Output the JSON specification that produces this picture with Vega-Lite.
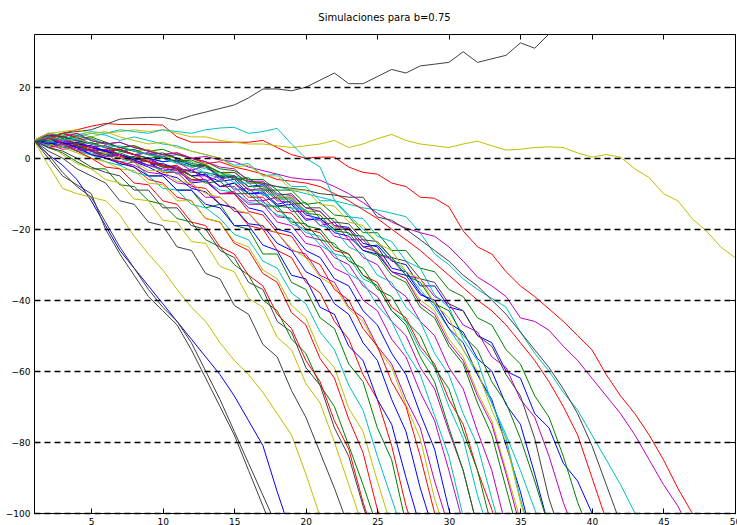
{
  "$schema": "https://vega.github.io/schema/vega-lite/v6.json",
  "autosize": "none",
  "width": 701,
  "height": 479,
  "padding": {"left": 34, "top": 34, "right": 2, "bottom": 12},
  "background": "white",
  "title": {"text": "Simulaciones para b=0.75", "font": "DejaVu Sans", "fontSize": 10, "fontWeight": "normal", "color": "black", "offset": 11, "anchor": "middle"},
  "config": {
    "view": {"stroke": "black", "strokeWidth": 1},
    "axis": {"labelFont": "DejaVu Sans", "labelFontSize": 9, "labelColor": "black", "domain": false, "tickColor": "black", "tickWidth": 1, "labelFlush": false, "labelOverlap": false}
  },
  "datasets": {
    "sim": [
{"s":1,"x":1,"y":5},{"s":1,"x":2,"y":1},{"s":1,"x":3,"y":-2},{"s":1,"x":4,"y":-6},{"s":1,"x":5,"y":-12},{"s":1,"x":6,"y":-19},{"s":1,"x":7,"y":-26},{"s":1,"x":8,"y":-31},{"s":1,"x":9,"y":-36},{"s":1,"x":10,"y":-41},{"s":1,"x":11,"y":-46},{"s":1,"x":12,"y":-51},{"s":1,"x":13,"y":-56},{"s":1,"x":14,"y":-61},{"s":1,"x":15,"y":-67},{"s":1,"x":16,"y":-74},{"s":1,"x":17,"y":-81},{"s":1,"x":18,"y":-94},{"s":1,"x":19,"y":-106},
{"s":2,"x":1,"y":5},{"s":2,"x":2,"y":6},{"s":2,"x":3,"y":4},{"s":2,"x":4,"y":3.5},{"s":2,"x":5,"y":1},{"s":2,"x":6,"y":2},{"s":2,"x":7,"y":-2},{"s":2,"x":8,"y":-1},{"s":2,"x":9,"y":-5},{"s":2,"x":10,"y":-5},{"s":2,"x":11,"y":-9},{"s":2,"x":12,"y":-9},{"s":2,"x":13,"y":-14},{"s":2,"x":14,"y":-13},{"s":2,"x":15,"y":-19},{"s":2,"x":16,"y":-20},{"s":2,"x":17,"y":-27},{"s":2,"x":18,"y":-27},{"s":2,"x":19,"y":-35},{"s":2,"x":20,"y":-37},{"s":2,"x":21,"y":-45},{"s":2,"x":22,"y":-48},{"s":2,"x":23,"y":-58},{"s":2,"x":24,"y":-63},{"s":2,"x":25,"y":-76},{"s":2,"x":26,"y":-85},{"s":2,"x":27,"y":-103},
{"s":3,"x":1,"y":5},{"s":3,"x":2,"y":6},{"s":3,"x":3,"y":7},{"s":3,"x":4,"y":8},{"s":3,"x":5,"y":9},{"s":3,"x":6,"y":9.8},{"s":3,"x":7,"y":9.5},{"s":3,"x":8,"y":9.5},{"s":3,"x":9,"y":9.5},{"s":3,"x":10,"y":9.3},{"s":3,"x":11,"y":6},{"s":3,"x":12,"y":4.5},{"s":3,"x":13,"y":4.5},{"s":3,"x":14,"y":4.5},{"s":3,"x":15,"y":4.5},{"s":3,"x":16,"y":4.5},{"s":3,"x":17,"y":5},{"s":3,"x":18,"y":3},{"s":3,"x":19,"y":1},{"s":3,"x":20,"y":0},{"s":3,"x":21,"y":0.3},{"s":3,"x":22,"y":0.3},{"s":3,"x":23,"y":-2.5},{"s":3,"x":24,"y":-4},{"s":3,"x":25,"y":-4.5},{"s":3,"x":26,"y":-7},{"s":3,"x":27,"y":-8},{"s":3,"x":28,"y":-11},{"s":3,"x":29,"y":-11.3},{"s":3,"x":30,"y":-13.7},{"s":3,"x":31,"y":-20.5},{"s":3,"x":32,"y":-25},{"s":3,"x":33,"y":-27},{"s":3,"x":34,"y":-32},{"s":3,"x":35,"y":-36},{"s":3,"x":36,"y":-39},{"s":3,"x":37,"y":-42.5},{"s":3,"x":38,"y":-46},{"s":3,"x":39,"y":-50},{"s":3,"x":40,"y":-54},{"s":3,"x":41,"y":-61},{"s":3,"x":42,"y":-67},{"s":3,"x":43,"y":-72},{"s":3,"x":44,"y":-78},{"s":3,"x":45,"y":-85},{"s":3,"x":46,"y":-93},{"s":3,"x":47,"y":-100},{"s":3,"x":48,"y":-108},
{"s":4,"x":1,"y":5},{"s":4,"x":2,"y":5.5},{"s":4,"x":3,"y":4},{"s":4,"x":4,"y":4.5},{"s":4,"x":5,"y":3},{"s":4,"x":6,"y":2},{"s":4,"x":7,"y":2.5},{"s":4,"x":8,"y":1},{"s":4,"x":9,"y":0},{"s":4,"x":10,"y":-1},{"s":4,"x":11,"y":-0.5},{"s":4,"x":12,"y":-2},{"s":4,"x":13,"y":-3},{"s":4,"x":14,"y":-4},{"s":4,"x":15,"y":-5},{"s":4,"x":16,"y":-6},{"s":4,"x":17,"y":-7.5},{"s":4,"x":18,"y":-8},{"s":4,"x":19,"y":-9},{"s":4,"x":20,"y":-10},{"s":4,"x":21,"y":-11},{"s":4,"x":22,"y":-12},{"s":4,"x":23,"y":-13},{"s":4,"x":24,"y":-14},{"s":4,"x":25,"y":-14.6},{"s":4,"x":26,"y":-15.5},{"s":4,"x":27,"y":-16.5},{"s":4,"x":28,"y":-21},{"s":4,"x":29,"y":-27},{"s":4,"x":30,"y":-30},{"s":4,"x":31,"y":-34},{"s":4,"x":32,"y":-37},{"s":4,"x":33,"y":-39.5},{"s":4,"x":34,"y":-42},{"s":4,"x":35,"y":-49},{"s":4,"x":36,"y":-55},{"s":4,"x":37,"y":-60},{"s":4,"x":38,"y":-66},{"s":4,"x":39,"y":-71},{"s":4,"x":40,"y":-78},{"s":4,"x":41,"y":-85},{"s":4,"x":42,"y":-92},{"s":4,"x":43,"y":-100},{"s":4,"x":44,"y":-108},
{"s":5,"x":1,"y":5},{"s":5,"x":2,"y":4},{"s":5,"x":3,"y":4.5},{"s":5,"x":4,"y":3},{"s":5,"x":5,"y":3.5},{"s":5,"x":6,"y":2},{"s":5,"x":7,"y":2.5},{"s":5,"x":8,"y":1},{"s":5,"x":9,"y":1.5},{"s":5,"x":10,"y":0.5},{"s":5,"x":11,"y":1},{"s":5,"x":12,"y":0},{"s":5,"x":13,"y":0.5},{"s":5,"x":14,"y":-0.5},{"s":5,"x":15,"y":-1},{"s":5,"x":16,"y":-2.5},{"s":5,"x":17,"y":-3.5},{"s":5,"x":18,"y":-4.5},{"s":5,"x":19,"y":-5.5},{"s":5,"x":20,"y":-6},{"s":5,"x":21,"y":-6.2},{"s":5,"x":22,"y":-8},{"s":5,"x":23,"y":-10},{"s":5,"x":24,"y":-12.5},{"s":5,"x":25,"y":-15.5},{"s":5,"x":26,"y":-18},{"s":5,"x":27,"y":-19.7},{"s":5,"x":28,"y":-21},{"s":5,"x":29,"y":-22},{"s":5,"x":30,"y":-25},{"s":5,"x":31,"y":-29},{"s":5,"x":32,"y":-33.5},{"s":5,"x":33,"y":-36},{"s":5,"x":34,"y":-39},{"s":5,"x":35,"y":-45},{"s":5,"x":36,"y":-46},{"s":5,"x":37,"y":-48.5},{"s":5,"x":38,"y":-53},{"s":5,"x":39,"y":-57},{"s":5,"x":40,"y":-62},{"s":5,"x":41,"y":-67},{"s":5,"x":42,"y":-72},{"s":5,"x":43,"y":-78},{"s":5,"x":44,"y":-85},{"s":5,"x":45,"y":-92},{"s":5,"x":46,"y":-98},{"s":5,"x":47,"y":-106},
{"s":6,"x":1,"y":5},{"s":6,"x":2,"y":6},{"s":6,"x":3,"y":6.5},{"s":6,"x":4,"y":7},{"s":6,"x":5,"y":6},{"s":6,"x":6,"y":7},{"s":6,"x":7,"y":7.5},{"s":6,"x":8,"y":8},{"s":6,"x":9,"y":7.5},{"s":6,"x":10,"y":8},{"s":6,"x":11,"y":7},{"s":6,"x":12,"y":6},{"s":6,"x":13,"y":6},{"s":6,"x":14,"y":5},{"s":6,"x":15,"y":4.5},{"s":6,"x":16,"y":4},{"s":6,"x":17,"y":4},{"s":6,"x":18,"y":3.5},{"s":6,"x":19,"y":3},{"s":6,"x":20,"y":3.5},{"s":6,"x":21,"y":4},{"s":6,"x":22,"y":5},{"s":6,"x":23,"y":3},{"s":6,"x":24,"y":4},{"s":6,"x":25,"y":5.5},{"s":6,"x":26,"y":6.7},{"s":6,"x":27,"y":5},{"s":6,"x":28,"y":4},{"s":6,"x":29,"y":3.5},{"s":6,"x":30,"y":3},{"s":6,"x":31,"y":4},{"s":6,"x":32,"y":4.8},{"s":6,"x":33,"y":3.5},{"s":6,"x":34,"y":2.3},{"s":6,"x":35,"y":2.5},{"s":6,"x":36,"y":3},{"s":6,"x":37,"y":3.2},{"s":6,"x":38,"y":3},{"s":6,"x":39,"y":1.5},{"s":6,"x":40,"y":0.3},{"s":6,"x":41,"y":1},{"s":6,"x":42,"y":0.3},{"s":6,"x":43,"y":-3},{"s":6,"x":44,"y":-5.5},{"s":6,"x":45,"y":-10},{"s":6,"x":46,"y":-12},{"s":6,"x":47,"y":-17},{"s":6,"x":48,"y":-20.5},{"s":6,"x":49,"y":-25},{"s":6,"x":50,"y":-28},
{"s":7,"x":1,"y":5},{"s":7,"x":2,"y":6},{"s":7,"x":3,"y":7},{"s":7,"x":4,"y":7.5},{"s":7,"x":5,"y":8},{"s":7,"x":6,"y":9.5},{"s":7,"x":7,"y":11},{"s":7,"x":8,"y":11.3},{"s":7,"x":9,"y":11.5},{"s":7,"x":10,"y":11.5},{"s":7,"x":11,"y":10.7},{"s":7,"x":12,"y":12},{"s":7,"x":13,"y":13},{"s":7,"x":14,"y":14},{"s":7,"x":15,"y":15},{"s":7,"x":16,"y":17},{"s":7,"x":17,"y":19.5},{"s":7,"x":18,"y":19.5},{"s":7,"x":19,"y":19},{"s":7,"x":20,"y":20},{"s":7,"x":21,"y":22},{"s":7,"x":22,"y":24},{"s":7,"x":23,"y":21},{"s":7,"x":24,"y":21},{"s":7,"x":25,"y":23},{"s":7,"x":26,"y":25},{"s":7,"x":27,"y":24},{"s":7,"x":28,"y":26},{"s":7,"x":29,"y":26.5},{"s":7,"x":30,"y":27},{"s":7,"x":31,"y":30},{"s":7,"x":32,"y":27},{"s":7,"x":33,"y":28},{"s":7,"x":34,"y":29},{"s":7,"x":35,"y":32.5},{"s":7,"x":36,"y":31},{"s":7,"x":37,"y":35},{"s":7,"x":38,"y":38},
{"s":8,"x":1,"y":5},{"s":8,"x":2,"y":4},{"s":8,"x":3,"y":5.5},{"s":8,"x":4,"y":3.5},{"s":8,"x":5,"y":2},{"s":8,"x":6,"y":2.5},{"s":8,"x":7,"y":1},{"s":8,"x":8,"y":-0.5},{"s":8,"x":9,"y":0},{"s":8,"x":10,"y":-2},{"s":8,"x":11,"y":-3},{"s":8,"x":12,"y":-3.5},{"s":8,"x":13,"y":-5},{"s":8,"x":14,"y":-6.5},{"s":8,"x":15,"y":-6},{"s":8,"x":16,"y":-10},{"s":8,"x":17,"y":-9.5},{"s":8,"x":18,"y":-13},{"s":8,"x":19,"y":-12},{"s":8,"x":20,"y":-16},{"s":8,"x":21,"y":-17},{"s":8,"x":22,"y":-20},{"s":8,"x":23,"y":-20},{"s":8,"x":24,"y":-25},{"s":8,"x":25,"y":-24.5},{"s":8,"x":26,"y":-29},{"s":8,"x":27,"y":-30},{"s":8,"x":28,"y":-36},{"s":8,"x":29,"y":-36},{"s":8,"x":30,"y":-42},{"s":8,"x":31,"y":-43},{"s":8,"x":32,"y":-50},{"s":8,"x":33,"y":-52},{"s":8,"x":34,"y":-60},{"s":8,"x":35,"y":-62},{"s":8,"x":36,"y":-72},{"s":8,"x":37,"y":-76},{"s":8,"x":38,"y":-86},{"s":8,"x":39,"y":-91},{"s":8,"x":40,"y":-100},{"s":8,"x":41,"y":-108},
{"s":9,"x":1,"y":5},{"s":9,"x":2,"y":6},{"s":9,"x":3,"y":5},{"s":9,"x":4,"y":6.5},{"s":9,"x":5,"y":5},{"s":9,"x":6,"y":4},{"s":9,"x":7,"y":4.5},{"s":9,"x":8,"y":3},{"s":9,"x":9,"y":2},{"s":9,"x":10,"y":2.5},{"s":9,"x":11,"y":1},{"s":9,"x":12,"y":0},{"s":9,"x":13,"y":-1},{"s":9,"x":14,"y":-3},{"s":9,"x":15,"y":-3.5},{"s":9,"x":16,"y":-6},{"s":9,"x":17,"y":-6},{"s":9,"x":18,"y":-9},{"s":9,"x":19,"y":-9},{"s":9,"x":20,"y":-13},{"s":9,"x":21,"y":-12.5},{"s":9,"x":22,"y":-16},{"s":9,"x":23,"y":-16.5},{"s":9,"x":24,"y":-21},{"s":9,"x":25,"y":-21},{"s":9,"x":26,"y":-26},{"s":9,"x":27,"y":-26},{"s":9,"x":28,"y":-31},{"s":9,"x":29,"y":-32},{"s":9,"x":30,"y":-37},{"s":9,"x":31,"y":-39},{"s":9,"x":32,"y":-45},{"s":9,"x":33,"y":-47},{"s":9,"x":34,"y":-54},{"s":9,"x":35,"y":-58},{"s":9,"x":36,"y":-67},{"s":9,"x":37,"y":-73},{"s":9,"x":38,"y":-84},{"s":9,"x":39,"y":-97},{"s":9,"x":40,"y":-107},
{"s":10,"x":1,"y":5},{"s":10,"x":2,"y":7},{"s":10,"x":3,"y":6},{"s":10,"x":4,"y":5},{"s":10,"x":5,"y":5.5},{"s":10,"x":6,"y":4},{"s":10,"x":7,"y":3},{"s":10,"x":8,"y":3.5},{"s":10,"x":9,"y":2},{"s":10,"x":10,"y":1},{"s":10,"x":11,"y":1.5},{"s":10,"x":12,"y":0},{"s":10,"x":13,"y":-1.5},{"s":10,"x":14,"y":-1},{"s":10,"x":15,"y":-2.5},{"s":10,"x":16,"y":-3.4},{"s":10,"x":17,"y":-4.5},{"s":10,"x":18,"y":-6},{"s":10,"x":19,"y":-6.5},{"s":10,"x":20,"y":-7},{"s":10,"x":21,"y":-8},{"s":10,"x":22,"y":-10},{"s":10,"x":23,"y":-12},{"s":10,"x":24,"y":-14.5},{"s":10,"x":25,"y":-17},{"s":10,"x":26,"y":-20},{"s":10,"x":27,"y":-23},{"s":10,"x":28,"y":-26},{"s":10,"x":29,"y":-29.5},{"s":10,"x":30,"y":-33},{"s":10,"x":31,"y":-36.5},{"s":10,"x":32,"y":-40},{"s":10,"x":33,"y":-43},{"s":10,"x":34,"y":-47},{"s":10,"x":35,"y":-52},{"s":10,"x":36,"y":-57},{"s":10,"x":37,"y":-63},{"s":10,"x":38,"y":-70},{"s":10,"x":39,"y":-78},{"s":10,"x":40,"y":-90},{"s":10,"x":41,"y":-102},
{"s":11,"x":1,"y":5},{"s":11,"x":2,"y":6},{"s":11,"x":3,"y":7},{"s":11,"x":4,"y":6.5},{"s":11,"x":5,"y":7.5},{"s":11,"x":6,"y":7},{"s":11,"x":7,"y":8},{"s":11,"x":8,"y":7.5},{"s":11,"x":9,"y":7},{"s":11,"x":10,"y":8},{"s":11,"x":11,"y":7.5},{"s":11,"x":12,"y":7},{"s":11,"x":13,"y":8},{"s":11,"x":14,"y":8.5},{"s":11,"x":15,"y":8.7},{"s":11,"x":16,"y":7},{"s":11,"x":17,"y":7.5},{"s":11,"x":18,"y":8.4},{"s":11,"x":19,"y":4},{"s":11,"x":20,"y":0},{"s":11,"x":21,"y":-2.5},{"s":11,"x":22,"y":-11.8},{"s":11,"x":23,"y":-16},{"s":11,"x":24,"y":-20},{"s":11,"x":25,"y":-24},{"s":11,"x":26,"y":-28},{"s":11,"x":27,"y":-32},{"s":11,"x":28,"y":-37},{"s":11,"x":29,"y":-42},{"s":11,"x":30,"y":-48},{"s":11,"x":31,"y":-54},{"s":11,"x":32,"y":-61},{"s":11,"x":33,"y":-69},{"s":11,"x":34,"y":-78},{"s":11,"x":35,"y":-88},{"s":11,"x":36,"y":-99},{"s":11,"x":37,"y":-110},
{"s":12,"x":1,"y":5},{"s":12,"x":2,"y":3},{"s":12,"x":3,"y":3.5},{"s":12,"x":4,"y":2},{"s":12,"x":5,"y":1},{"s":12,"x":6,"y":1.5},{"s":12,"x":7,"y":0},{"s":12,"x":8,"y":-1},{"s":12,"x":9,"y":-0.5},{"s":12,"x":10,"y":-2},{"s":12,"x":11,"y":-4.5},{"s":12,"x":12,"y":-3},{"s":12,"x":13,"y":-6.5},{"s":12,"x":14,"y":-5},{"s":12,"x":15,"y":-9},{"s":12,"x":16,"y":-8.5},{"s":12,"x":17,"y":-12},{"s":12,"x":18,"y":-11},{"s":12,"x":19,"y":-15},{"s":12,"x":20,"y":-15},{"s":12,"x":21,"y":-19},{"s":12,"x":22,"y":-18},{"s":12,"x":23,"y":-23},{"s":12,"x":24,"y":-23},{"s":12,"x":25,"y":-27},{"s":12,"x":26,"y":-28.5},{"s":12,"x":27,"y":-33},{"s":12,"x":28,"y":-34},{"s":12,"x":29,"y":-39},{"s":12,"x":30,"y":-41},{"s":12,"x":31,"y":-47},{"s":12,"x":32,"y":-49},{"s":12,"x":33,"y":-56},{"s":12,"x":34,"y":-59},{"s":12,"x":35,"y":-68},{"s":12,"x":36,"y":-73},{"s":12,"x":37,"y":-84},{"s":12,"x":38,"y":-97},{"s":12,"x":39,"y":-108},
{"s":13,"x":1,"y":5},{"s":13,"x":2,"y":-2},{"s":13,"x":3,"y":-8.5},{"s":13,"x":4,"y":-10},{"s":13,"x":5,"y":-11},{"s":13,"x":6,"y":-12},{"s":13,"x":7,"y":-16},{"s":13,"x":8,"y":-22},{"s":13,"x":9,"y":-27},{"s":13,"x":10,"y":-31.5},{"s":13,"x":11,"y":-37},{"s":13,"x":12,"y":-42},{"s":13,"x":13,"y":-46},{"s":13,"x":14,"y":-52},{"s":13,"x":15,"y":-57},{"s":13,"x":16,"y":-61},{"s":13,"x":17,"y":-66},{"s":13,"x":18,"y":-72},{"s":13,"x":19,"y":-78},{"s":13,"x":20,"y":-89},{"s":13,"x":21,"y":-101},
{"s":14,"x":1,"y":5},{"s":14,"x":2,"y":3.5},{"s":14,"x":3,"y":4},{"s":14,"x":4,"y":2},{"s":14,"x":5,"y":2.5},{"s":14,"x":6,"y":1},{"s":14,"x":7,"y":0},{"s":14,"x":8,"y":0.5},{"s":14,"x":9,"y":-1},{"s":14,"x":10,"y":-2},{"s":14,"x":11,"y":-2.5},{"s":14,"x":12,"y":-4},{"s":14,"x":13,"y":-4},{"s":14,"x":14,"y":-5},{"s":14,"x":15,"y":-5.5},{"s":14,"x":16,"y":-6.5},{"s":14,"x":17,"y":-7},{"s":14,"x":18,"y":-8},{"s":14,"x":19,"y":-8.5},{"s":14,"x":20,"y":-9},{"s":14,"x":21,"y":-10},{"s":14,"x":22,"y":-10.4},{"s":14,"x":23,"y":-11},{"s":14,"x":24,"y":-11},{"s":14,"x":25,"y":-16.6},{"s":14,"x":26,"y":-17.5},{"s":14,"x":27,"y":-20},{"s":14,"x":28,"y":-23},{"s":14,"x":29,"y":-26},{"s":14,"x":30,"y":-29},{"s":14,"x":31,"y":-33},{"s":14,"x":32,"y":-36},{"s":14,"x":33,"y":-40},{"s":14,"x":34,"y":-44},{"s":14,"x":35,"y":-49},{"s":14,"x":36,"y":-54},{"s":14,"x":37,"y":-59},{"s":14,"x":38,"y":-65},{"s":14,"x":39,"y":-72},{"s":14,"x":40,"y":-81},{"s":14,"x":41,"y":-92},{"s":14,"x":42,"y":-103},
{"s":15,"x":1,"y":5},{"s":15,"x":2,"y":5.5},{"s":15,"x":3,"y":4},{"s":15,"x":4,"y":4.5},{"s":15,"x":5,"y":3},{"s":15,"x":6,"y":2},{"s":15,"x":7,"y":2.5},{"s":15,"x":8,"y":1},{"s":15,"x":9,"y":0},{"s":15,"x":10,"y":-1},{"s":15,"x":11,"y":-0.5},{"s":15,"x":12,"y":-2},{"s":15,"x":13,"y":-2},{"s":15,"x":14,"y":-5.5},{"s":15,"x":15,"y":-5},{"s":15,"x":16,"y":-8},{"s":15,"x":17,"y":-7.5},{"s":15,"x":18,"y":-11},{"s":15,"x":19,"y":-11},{"s":15,"x":20,"y":-15},{"s":15,"x":21,"y":-15},{"s":15,"x":22,"y":-19},{"s":15,"x":23,"y":-19.5},{"s":15,"x":24,"y":-24},{"s":15,"x":25,"y":-25},{"s":15,"x":26,"y":-31},{"s":15,"x":27,"y":-32},{"s":15,"x":28,"y":-38},{"s":15,"x":29,"y":-41},{"s":15,"x":30,"y":-48},{"s":15,"x":31,"y":-52},{"s":15,"x":32,"y":-61},{"s":15,"x":33,"y":-68},{"s":15,"x":34,"y":-81},{"s":15,"x":35,"y":-94},{"s":15,"x":36,"y":-110},
{"s":16,"x":1,"y":5},{"s":16,"x":2,"y":4.5},{"s":16,"x":3,"y":5.5},{"s":16,"x":4,"y":4},{"s":16,"x":5,"y":3},{"s":16,"x":6,"y":3.5},{"s":16,"x":7,"y":2},{"s":16,"x":8,"y":1},{"s":16,"x":9,"y":0},{"s":16,"x":10,"y":0.5},{"s":16,"x":11,"y":-1},{"s":16,"x":12,"y":-2.5},{"s":16,"x":13,"y":-2},{"s":16,"x":14,"y":-5},{"s":16,"x":15,"y":-5},{"s":16,"x":16,"y":-8},{"s":16,"x":17,"y":-8},{"s":16,"x":18,"y":-11.5},{"s":16,"x":19,"y":-11.5},{"s":16,"x":20,"y":-15.5},{"s":16,"x":21,"y":-16},{"s":16,"x":22,"y":-20.5},{"s":16,"x":23,"y":-21},{"s":16,"x":24,"y":-26},{"s":16,"x":25,"y":-27.5},{"s":16,"x":26,"y":-33},{"s":16,"x":27,"y":-35},{"s":16,"x":28,"y":-42},{"s":16,"x":29,"y":-45},{"s":16,"x":30,"y":-53},{"s":16,"x":31,"y":-58},{"s":16,"x":32,"y":-69},{"s":16,"x":33,"y":-78},{"s":16,"x":34,"y":-93},{"s":16,"x":35,"y":-108},
{"s":17,"x":1,"y":5},{"s":17,"x":2,"y":4},{"s":17,"x":3,"y":3},{"s":17,"x":4,"y":4},{"s":17,"x":5,"y":2.5},{"s":17,"x":6,"y":2},{"s":17,"x":7,"y":0.5},{"s":17,"x":8,"y":0},{"s":17,"x":9,"y":-1},{"s":17,"x":10,"y":-2.5},{"s":17,"x":11,"y":-2},{"s":17,"x":12,"y":-5},{"s":17,"x":13,"y":-4.5},{"s":17,"x":14,"y":-8},{"s":17,"x":15,"y":-7},{"s":17,"x":16,"y":-11},{"s":17,"x":17,"y":-11},{"s":17,"x":18,"y":-15},{"s":17,"x":19,"y":-15.5},{"s":17,"x":20,"y":-20},{"s":17,"x":21,"y":-21},{"s":17,"x":22,"y":-26},{"s":17,"x":23,"y":-27},{"s":17,"x":24,"y":-33},{"s":17,"x":25,"y":-35},{"s":17,"x":26,"y":-42},{"s":17,"x":27,"y":-45},{"s":17,"x":28,"y":-53},{"s":17,"x":29,"y":-58},{"s":17,"x":30,"y":-68},{"s":17,"x":31,"y":-75},{"s":17,"x":32,"y":-88},{"s":17,"x":33,"y":-99},{"s":17,"x":34,"y":-113},
{"s":18,"x":1,"y":5},{"s":18,"x":2,"y":6},{"s":18,"x":3,"y":5},{"s":18,"x":4,"y":6},{"s":18,"x":5,"y":7},{"s":18,"x":6,"y":6.5},{"s":18,"x":7,"y":5},{"s":18,"x":8,"y":6},{"s":18,"x":9,"y":5},{"s":18,"x":10,"y":4},{"s":18,"x":11,"y":3.5},{"s":18,"x":12,"y":2},{"s":18,"x":13,"y":1},{"s":18,"x":14,"y":0},{"s":18,"x":15,"y":-2},{"s":18,"x":16,"y":-1.5},{"s":18,"x":17,"y":-5},{"s":18,"x":18,"y":-4.5},{"s":18,"x":19,"y":-8},{"s":18,"x":20,"y":-8},{"s":18,"x":21,"y":-12},{"s":18,"x":22,"y":-12},{"s":18,"x":23,"y":-16.5},{"s":18,"x":24,"y":-17},{"s":18,"x":25,"y":-22},{"s":18,"x":26,"y":-23.5},{"s":18,"x":27,"y":-29},{"s":18,"x":28,"y":-31},{"s":18,"x":29,"y":-38.5},{"s":18,"x":30,"y":-42},{"s":18,"x":31,"y":-51},{"s":18,"x":32,"y":-57},{"s":18,"x":33,"y":-69},{"s":18,"x":34,"y":-79},{"s":18,"x":35,"y":-96},{"s":18,"x":36,"y":-110},
{"s":19,"x":1,"y":5},{"s":19,"x":2,"y":4},{"s":19,"x":3,"y":5},{"s":19,"x":4,"y":3},{"s":19,"x":5,"y":2},{"s":19,"x":6,"y":2.5},{"s":19,"x":7,"y":1},{"s":19,"x":8,"y":-0.5},{"s":19,"x":9,"y":0},{"s":19,"x":10,"y":-2.5},{"s":19,"x":11,"y":-2.5},{"s":19,"x":12,"y":-5},{"s":19,"x":13,"y":-5},{"s":19,"x":14,"y":-8},{"s":19,"x":15,"y":-8},{"s":19,"x":16,"y":-12},{"s":19,"x":17,"y":-12},{"s":19,"x":18,"y":-16.5},{"s":19,"x":19,"y":-17},{"s":19,"x":20,"y":-22},{"s":19,"x":21,"y":-23},{"s":19,"x":22,"y":-28},{"s":19,"x":23,"y":-30},{"s":19,"x":24,"y":-36},{"s":19,"x":25,"y":-39},{"s":19,"x":26,"y":-46},{"s":19,"x":27,"y":-50},{"s":19,"x":28,"y":-59},{"s":19,"x":29,"y":-65},{"s":19,"x":30,"y":-77},{"s":19,"x":31,"y":-88},{"s":19,"x":32,"y":-104},
{"s":20,"x":1,"y":5},{"s":20,"x":2,"y":5},{"s":20,"x":3,"y":6},{"s":20,"x":4,"y":5},{"s":20,"x":5,"y":5.5},{"s":20,"x":6,"y":4},{"s":20,"x":7,"y":3},{"s":20,"x":8,"y":2},{"s":20,"x":9,"y":2.5},{"s":20,"x":10,"y":1},{"s":20,"x":11,"y":0},{"s":20,"x":12,"y":-1},{"s":20,"x":13,"y":-1.5},{"s":20,"x":14,"y":-4.5},{"s":20,"x":15,"y":-4},{"s":20,"x":16,"y":-7},{"s":20,"x":17,"y":-7},{"s":20,"x":18,"y":-11},{"s":20,"x":19,"y":-11},{"s":20,"x":20,"y":-15},{"s":20,"x":21,"y":-15},{"s":20,"x":22,"y":-19.5},{"s":20,"x":23,"y":-20},{"s":20,"x":24,"y":-25},{"s":20,"x":25,"y":-26},{"s":20,"x":26,"y":-32},{"s":20,"x":27,"y":-34},{"s":20,"x":28,"y":-40},{"s":20,"x":29,"y":-43},{"s":20,"x":30,"y":-51},{"s":20,"x":31,"y":-56},{"s":20,"x":32,"y":-66},{"s":20,"x":33,"y":-74},{"s":20,"x":34,"y":-88},{"s":20,"x":35,"y":-102},
{"s":21,"x":1,"y":5},{"s":21,"x":2,"y":0},{"s":21,"x":3,"y":-5},{"s":21,"x":4,"y":-7.5},{"s":21,"x":5,"y":-10},{"s":21,"x":6,"y":-20},{"s":21,"x":7,"y":-27},{"s":21,"x":8,"y":-33},{"s":21,"x":9,"y":-39},{"s":21,"x":10,"y":-43},{"s":21,"x":11,"y":-47},{"s":21,"x":12,"y":-54},{"s":21,"x":13,"y":-62},{"s":21,"x":14,"y":-70},{"s":21,"x":15,"y":-78},{"s":21,"x":16,"y":-88},{"s":21,"x":17,"y":-98},{"s":21,"x":18,"y":-108},
{"s":22,"x":1,"y":5},{"s":22,"x":2,"y":6},{"s":22,"x":3,"y":5},{"s":22,"x":4,"y":4},{"s":22,"x":5,"y":3.5},{"s":22,"x":6,"y":2},{"s":22,"x":7,"y":1},{"s":22,"x":8,"y":0},{"s":22,"x":9,"y":-1},{"s":22,"x":10,"y":-3.5},{"s":22,"x":11,"y":-3},{"s":22,"x":12,"y":-7},{"s":22,"x":13,"y":-6.5},{"s":22,"x":14,"y":-10},{"s":22,"x":15,"y":-10},{"s":22,"x":16,"y":-14},{"s":22,"x":17,"y":-15},{"s":22,"x":18,"y":-20},{"s":22,"x":19,"y":-21},{"s":22,"x":20,"y":-26},{"s":22,"x":21,"y":-28},{"s":22,"x":22,"y":-34},{"s":22,"x":23,"y":-36},{"s":22,"x":24,"y":-43},{"s":22,"x":25,"y":-47},{"s":22,"x":26,"y":-55},{"s":22,"x":27,"y":-61},{"s":22,"x":28,"y":-72},{"s":22,"x":29,"y":-82},{"s":22,"x":30,"y":-99},{"s":22,"x":31,"y":-110},
{"s":23,"x":1,"y":5},{"s":23,"x":2,"y":3},{"s":23,"x":3,"y":1.5},{"s":23,"x":4,"y":-1},{"s":23,"x":5,"y":-3},{"s":23,"x":6,"y":-3},{"s":23,"x":7,"y":-7.5},{"s":23,"x":8,"y":-8},{"s":23,"x":9,"y":-12},{"s":23,"x":10,"y":-13},{"s":23,"x":11,"y":-17},{"s":23,"x":12,"y":-18},{"s":23,"x":13,"y":-23},{"s":23,"x":14,"y":-25},{"s":23,"x":15,"y":-30},{"s":23,"x":16,"y":-33},{"s":23,"x":17,"y":-40},{"s":23,"x":18,"y":-43},{"s":23,"x":19,"y":-51},{"s":23,"x":20,"y":-55},{"s":23,"x":21,"y":-64},{"s":23,"x":22,"y":-70},{"s":23,"x":23,"y":-81},{"s":23,"x":24,"y":-92},{"s":23,"x":25,"y":-104},
{"s":24,"x":1,"y":5},{"s":24,"x":2,"y":7},{"s":24,"x":3,"y":6},{"s":24,"x":4,"y":5},{"s":24,"x":5,"y":4},{"s":24,"x":6,"y":3},{"s":24,"x":7,"y":1},{"s":24,"x":8,"y":-1},{"s":24,"x":9,"y":-1},{"s":24,"x":10,"y":-4},{"s":24,"x":11,"y":-4},{"s":24,"x":12,"y":-8},{"s":24,"x":13,"y":-8.5},{"s":24,"x":14,"y":-13},{"s":24,"x":15,"y":-14},{"s":24,"x":16,"y":-19},{"s":24,"x":17,"y":-20},{"s":24,"x":18,"y":-26},{"s":24,"x":19,"y":-28},{"s":24,"x":20,"y":-35},{"s":24,"x":21,"y":-38},{"s":24,"x":22,"y":-46},{"s":24,"x":23,"y":-51},{"s":24,"x":24,"y":-61},{"s":24,"x":25,"y":-68},{"s":24,"x":26,"y":-81},{"s":24,"x":27,"y":-98},{"s":24,"x":28,"y":-110},
{"s":25,"x":1,"y":5},{"s":25,"x":2,"y":3.5},{"s":25,"x":3,"y":4},{"s":25,"x":4,"y":2},{"s":25,"x":5,"y":1.5},{"s":25,"x":6,"y":0},{"s":25,"x":7,"y":-1},{"s":25,"x":8,"y":-0.5},{"s":25,"x":9,"y":-2},{"s":25,"x":10,"y":-3.5},{"s":25,"x":11,"y":-4},{"s":25,"x":12,"y":-6},{"s":25,"x":13,"y":-6.5},{"s":25,"x":14,"y":-9},{"s":25,"x":15,"y":-9.5},{"s":25,"x":16,"y":-12.5},{"s":25,"x":17,"y":-13},{"s":25,"x":18,"y":-16},{"s":25,"x":19,"y":-17},{"s":25,"x":20,"y":-21},{"s":25,"x":21,"y":-22},{"s":25,"x":22,"y":-27},{"s":25,"x":23,"y":-28},{"s":25,"x":24,"y":-34},{"s":25,"x":25,"y":-36},{"s":25,"x":26,"y":-43},{"s":25,"x":27,"y":-46},{"s":25,"x":28,"y":-54},{"s":25,"x":29,"y":-59},{"s":25,"x":30,"y":-70},{"s":25,"x":31,"y":-79},{"s":25,"x":32,"y":-95},{"s":25,"x":33,"y":-108},
{"s":26,"x":1,"y":5},{"s":26,"x":2,"y":4},{"s":26,"x":3,"y":2.5},{"s":26,"x":4,"y":3},{"s":26,"x":5,"y":1},{"s":26,"x":6,"y":0},{"s":26,"x":7,"y":-1},{"s":26,"x":8,"y":-2},{"s":26,"x":9,"y":-4},{"s":26,"x":10,"y":-4.5},{"s":26,"x":11,"y":-7},{"s":26,"x":12,"y":-7.5},{"s":26,"x":13,"y":-11},{"s":26,"x":14,"y":-11},{"s":26,"x":15,"y":-15},{"s":26,"x":16,"y":-15.5},{"s":26,"x":17,"y":-20},{"s":26,"x":18,"y":-21},{"s":26,"x":19,"y":-26},{"s":26,"x":20,"y":-27},{"s":26,"x":21,"y":-33},{"s":26,"x":22,"y":-35},{"s":26,"x":23,"y":-42},{"s":26,"x":24,"y":-45},{"s":26,"x":25,"y":-53},{"s":26,"x":26,"y":-58},{"s":26,"x":27,"y":-68},{"s":26,"x":28,"y":-76},{"s":26,"x":29,"y":-91},{"s":26,"x":30,"y":-104},
{"s":27,"x":1,"y":5},{"s":27,"x":2,"y":4},{"s":27,"x":3,"y":1},{"s":27,"x":4,"y":-1.5},{"s":27,"x":5,"y":-3},{"s":27,"x":6,"y":-6},{"s":27,"x":7,"y":-7},{"s":27,"x":8,"y":-11.5},{"s":27,"x":9,"y":-12},{"s":27,"x":10,"y":-17.5},{"s":27,"x":11,"y":-18},{"s":27,"x":12,"y":-23.5},{"s":27,"x":13,"y":-24},{"s":27,"x":14,"y":-30.5},{"s":27,"x":15,"y":-32},{"s":27,"x":16,"y":-39.5},{"s":27,"x":17,"y":-42},{"s":27,"x":18,"y":-50.5},{"s":27,"x":19,"y":-54},{"s":27,"x":20,"y":-63.5},{"s":27,"x":21,"y":-69},{"s":27,"x":22,"y":-80},{"s":27,"x":23,"y":-92},{"s":27,"x":24,"y":-104},
{"s":28,"x":1,"y":5},{"s":28,"x":2,"y":1},{"s":28,"x":3,"y":-4},{"s":28,"x":4,"y":-8},{"s":28,"x":5,"y":-11},{"s":28,"x":6,"y":-18},{"s":28,"x":7,"y":-25},{"s":28,"x":8,"y":-31},{"s":28,"x":9,"y":-37},{"s":28,"x":10,"y":-42},{"s":28,"x":11,"y":-46},{"s":28,"x":12,"y":-52},{"s":28,"x":13,"y":-60},{"s":28,"x":14,"y":-68},{"s":28,"x":15,"y":-77},{"s":28,"x":16,"y":-86},{"s":28,"x":17,"y":-95},{"s":28,"x":18,"y":-104},
{"s":29,"x":1,"y":5},{"s":29,"x":2,"y":6},{"s":29,"x":3,"y":4},{"s":29,"x":4,"y":4.5},{"s":29,"x":5,"y":3},{"s":29,"x":6,"y":2},{"s":29,"x":7,"y":0},{"s":29,"x":8,"y":-1},{"s":29,"x":9,"y":-2.5},{"s":29,"x":10,"y":-4.5},{"s":29,"x":11,"y":-5.5},{"s":29,"x":12,"y":-8.5},{"s":29,"x":13,"y":-9.5},{"s":29,"x":14,"y":-13},{"s":29,"x":15,"y":-14},{"s":29,"x":16,"y":-18.5},{"s":29,"x":17,"y":-19},{"s":29,"x":18,"y":-24},{"s":29,"x":19,"y":-26},{"s":29,"x":20,"y":-32},{"s":29,"x":21,"y":-34},{"s":29,"x":22,"y":-41},{"s":29,"x":23,"y":-44},{"s":29,"x":24,"y":-52},{"s":29,"x":25,"y":-57},{"s":29,"x":26,"y":-68},{"s":29,"x":27,"y":-77},{"s":29,"x":28,"y":-93},{"s":29,"x":29,"y":-106},
{"s":30,"x":1,"y":5},{"s":30,"x":2,"y":6},{"s":30,"x":3,"y":7},{"s":30,"x":4,"y":5.5},{"s":30,"x":5,"y":6},{"s":30,"x":6,"y":4.5},{"s":30,"x":7,"y":3},{"s":30,"x":8,"y":3.5},{"s":30,"x":9,"y":2},{"s":30,"x":10,"y":1},{"s":30,"x":11,"y":0},{"s":30,"x":12,"y":-2},{"s":30,"x":13,"y":-2.5},{"s":30,"x":14,"y":-5},{"s":30,"x":15,"y":-5.5},{"s":30,"x":16,"y":-9},{"s":30,"x":17,"y":-9},{"s":30,"x":18,"y":-13.5},{"s":30,"x":19,"y":-14},{"s":30,"x":20,"y":-19},{"s":30,"x":21,"y":-20},{"s":30,"x":22,"y":-25},{"s":30,"x":23,"y":-27},{"s":30,"x":24,"y":-33},{"s":30,"x":25,"y":-36},{"s":30,"x":26,"y":-43},{"s":30,"x":27,"y":-47},{"s":30,"x":28,"y":-56},{"s":30,"x":29,"y":-63},{"s":30,"x":30,"y":-76},{"s":30,"x":31,"y":-88},{"s":30,"x":32,"y":-104},
{"s":31,"x":1,"y":5},{"s":31,"x":2,"y":6.5},{"s":31,"x":3,"y":5},{"s":31,"x":4,"y":4},{"s":31,"x":5,"y":2},{"s":31,"x":6,"y":0},{"s":31,"x":7,"y":-1},{"s":31,"x":8,"y":-2.5},{"s":31,"x":9,"y":-6},{"s":31,"x":10,"y":-7},{"s":31,"x":11,"y":-11},{"s":31,"x":12,"y":-12},{"s":31,"x":13,"y":-17},{"s":31,"x":14,"y":-18},{"s":31,"x":15,"y":-24},{"s":31,"x":16,"y":-26},{"s":31,"x":17,"y":-32.5},{"s":31,"x":18,"y":-35},{"s":31,"x":19,"y":-43.5},{"s":31,"x":20,"y":-47},{"s":31,"x":21,"y":-56.5},{"s":31,"x":22,"y":-62},{"s":31,"x":23,"y":-73.5},{"s":31,"x":24,"y":-83},{"s":31,"x":25,"y":-99},{"s":31,"x":26,"y":-110},
{"s":32,"x":1,"y":5},{"s":32,"x":2,"y":7},{"s":32,"x":3,"y":6.5},{"s":32,"x":4,"y":5},{"s":32,"x":5,"y":5.5},{"s":32,"x":6,"y":4},{"s":32,"x":7,"y":3},{"s":32,"x":8,"y":2},{"s":32,"x":9,"y":1},{"s":32,"x":10,"y":0},{"s":32,"x":11,"y":-1.5},{"s":32,"x":12,"y":-2.5},{"s":32,"x":13,"y":-4.5},{"s":32,"x":14,"y":-5.5},{"s":32,"x":15,"y":-8.5},{"s":32,"x":16,"y":-9.5},{"s":32,"x":17,"y":-12.5},{"s":32,"x":18,"y":-14},{"s":32,"x":19,"y":-18.5},{"s":32,"x":20,"y":-20},{"s":32,"x":21,"y":-24.5},{"s":32,"x":22,"y":-27},{"s":32,"x":23,"y":-32.5},{"s":32,"x":24,"y":-35},{"s":32,"x":25,"y":-41.5},{"s":32,"x":26,"y":-46},{"s":32,"x":27,"y":-54.5},{"s":32,"x":28,"y":-61},{"s":32,"x":29,"y":-72.5},{"s":32,"x":30,"y":-84},{"s":32,"x":31,"y":-101},
{"s":33,"x":1,"y":5},{"s":33,"x":2,"y":6},{"s":33,"x":3,"y":4.5},{"s":33,"x":4,"y":5},{"s":33,"x":5,"y":3},{"s":33,"x":6,"y":3.5},{"s":33,"x":7,"y":2},{"s":33,"x":8,"y":1},{"s":33,"x":9,"y":1.5},{"s":33,"x":10,"y":0},{"s":33,"x":11,"y":-1},{"s":33,"x":12,"y":-3.5},{"s":33,"x":13,"y":-2},{"s":33,"x":14,"y":-6},{"s":33,"x":15,"y":-5},{"s":33,"x":16,"y":-9},{"s":33,"x":17,"y":-8.5},{"s":33,"x":18,"y":-12},{"s":33,"x":19,"y":-12.5},{"s":33,"x":20,"y":-17},{"s":33,"x":21,"y":-17.5},{"s":33,"x":22,"y":-22},{"s":33,"x":23,"y":-23},{"s":33,"x":24,"y":-28},{"s":33,"x":25,"y":-30},{"s":33,"x":26,"y":-36},{"s":33,"x":27,"y":-39},{"s":33,"x":28,"y":-46},{"s":33,"x":29,"y":-50},{"s":33,"x":30,"y":-59},{"s":33,"x":31,"y":-65},{"s":33,"x":32,"y":-77},{"s":33,"x":33,"y":-88},{"s":33,"x":34,"y":-104},
{"s":34,"x":1,"y":5},{"s":34,"x":2,"y":3},{"s":34,"x":3,"y":4},{"s":34,"x":4,"y":2},{"s":34,"x":5,"y":1},{"s":34,"x":6,"y":1.5},{"s":34,"x":7,"y":0},{"s":34,"x":8,"y":-1},{"s":34,"x":9,"y":-3.5},{"s":34,"x":10,"y":-3.5},{"s":34,"x":11,"y":-6.5},{"s":34,"x":12,"y":-7},{"s":34,"x":13,"y":-10},{"s":34,"x":14,"y":-11},{"s":34,"x":15,"y":-14.5},{"s":34,"x":16,"y":-15.5},{"s":34,"x":17,"y":-19.5},{"s":34,"x":18,"y":-21},{"s":34,"x":19,"y":-25.5},{"s":34,"x":20,"y":-28},{"s":34,"x":21,"y":-33.5},{"s":34,"x":22,"y":-36},{"s":34,"x":23,"y":-42.5},{"s":34,"x":24,"y":-46},{"s":34,"x":25,"y":-53.5},{"s":34,"x":26,"y":-59},{"s":34,"x":27,"y":-69.5},{"s":34,"x":28,"y":-79},{"s":34,"x":29,"y":-96},{"s":34,"x":30,"y":-108},
{"s":35,"x":1,"y":5},{"s":35,"x":2,"y":2},{"s":35,"x":3,"y":0},{"s":35,"x":4,"y":-3},{"s":35,"x":5,"y":-5},{"s":35,"x":6,"y":-7},{"s":35,"x":7,"y":-12},{"s":35,"x":8,"y":-13},{"s":35,"x":9,"y":-18},{"s":35,"x":10,"y":-19},{"s":35,"x":11,"y":-25},{"s":35,"x":12,"y":-26},{"s":35,"x":13,"y":-32.5},{"s":35,"x":14,"y":-34},{"s":35,"x":15,"y":-41.5},{"s":35,"x":16,"y":-44},{"s":35,"x":17,"y":-52.5},{"s":35,"x":18,"y":-56},{"s":35,"x":19,"y":-65.5},{"s":35,"x":20,"y":-73},{"s":35,"x":21,"y":-83},{"s":35,"x":22,"y":-93},{"s":35,"x":23,"y":-104},
{"s":36,"x":1,"y":5},{"s":36,"x":2,"y":4.5},{"s":36,"x":3,"y":3},{"s":36,"x":4,"y":3.5},{"s":36,"x":5,"y":2},{"s":36,"x":6,"y":0.5},{"s":36,"x":7,"y":1},{"s":36,"x":8,"y":-0.5},{"s":36,"x":9,"y":-2},{"s":36,"x":10,"y":-1.5},{"s":36,"x":11,"y":-3},{"s":36,"x":12,"y":-5},{"s":36,"x":13,"y":-4.5},{"s":36,"x":14,"y":-8},{"s":36,"x":15,"y":-7},{"s":36,"x":16,"y":-10},{"s":36,"x":17,"y":-10},{"s":36,"x":18,"y":-13.5},{"s":36,"x":19,"y":-13},{"s":36,"x":20,"y":-17.5},{"s":36,"x":21,"y":-17},{"s":36,"x":22,"y":-21},{"s":36,"x":23,"y":-22},{"s":36,"x":24,"y":-26},{"s":36,"x":25,"y":-27},{"s":36,"x":26,"y":-32},{"s":36,"x":27,"y":-33},{"s":36,"x":28,"y":-38.5},{"s":36,"x":29,"y":-40},{"s":36,"x":30,"y":-46.5},{"s":36,"x":31,"y":-49},{"s":36,"x":32,"y":-56.5},{"s":36,"x":33,"y":-60},{"s":36,"x":34,"y":-69.5},{"s":36,"x":35,"y":-75},{"s":36,"x":36,"y":-89},{"s":36,"x":37,"y":-104},
{"s":37,"x":1,"y":5},{"s":37,"x":2,"y":5},{"s":37,"x":3,"y":3},{"s":37,"x":4,"y":3.5},{"s":37,"x":5,"y":2},{"s":37,"x":6,"y":1},{"s":37,"x":7,"y":1.5},{"s":37,"x":8,"y":0},{"s":37,"x":9,"y":-1},{"s":37,"x":10,"y":-2.5},{"s":37,"x":11,"y":-3},{"s":37,"x":12,"y":-5},{"s":37,"x":13,"y":-7},{"s":37,"x":14,"y":-6.5},{"s":37,"x":15,"y":-10},{"s":37,"x":16,"y":-10},{"s":37,"x":17,"y":-13.5},{"s":37,"x":18,"y":-13.5},{"s":37,"x":19,"y":-18},{"s":37,"x":20,"y":-18.5},{"s":37,"x":21,"y":-23},{"s":37,"x":22,"y":-24},{"s":37,"x":23,"y":-29},{"s":37,"x":24,"y":-31},{"s":37,"x":25,"y":-37},{"s":37,"x":26,"y":-39},{"s":37,"x":27,"y":-46},{"s":37,"x":28,"y":-50},{"s":37,"x":29,"y":-59},{"s":37,"x":30,"y":-65},{"s":37,"x":31,"y":-77},{"s":37,"x":32,"y":-88},{"s":37,"x":33,"y":-104},
{"s":38,"x":1,"y":5},{"s":38,"x":2,"y":5.5},{"s":38,"x":3,"y":7},{"s":38,"x":4,"y":6},{"s":38,"x":5,"y":4},{"s":38,"x":6,"y":3},{"s":38,"x":7,"y":2.5},{"s":38,"x":8,"y":1},{"s":38,"x":9,"y":-1},{"s":38,"x":10,"y":-2},{"s":38,"x":11,"y":-3},{"s":38,"x":12,"y":-6},{"s":38,"x":13,"y":-6},{"s":38,"x":14,"y":-10},{"s":38,"x":15,"y":-10},{"s":38,"x":16,"y":-15},{"s":38,"x":17,"y":-16},{"s":38,"x":18,"y":-21},{"s":38,"x":19,"y":-22},{"s":38,"x":20,"y":-28},{"s":38,"x":21,"y":-30},{"s":38,"x":22,"y":-37},{"s":38,"x":23,"y":-40},{"s":38,"x":24,"y":-48},{"s":38,"x":25,"y":-53},{"s":38,"x":26,"y":-63},{"s":38,"x":27,"y":-70},{"s":38,"x":28,"y":-84},{"s":38,"x":29,"y":-100},{"s":38,"x":30,"y":-110},
{"s":39,"x":1,"y":5},{"s":39,"x":2,"y":5},{"s":39,"x":3,"y":3.5},{"s":39,"x":4,"y":2},{"s":39,"x":5,"y":1},{"s":39,"x":6,"y":-1},{"s":39,"x":7,"y":-2},{"s":39,"x":8,"y":-4},{"s":39,"x":9,"y":-5},{"s":39,"x":10,"y":-8.5},{"s":39,"x":11,"y":-9},{"s":39,"x":12,"y":-13},{"s":39,"x":13,"y":-14},{"s":39,"x":14,"y":-17},{"s":39,"x":15,"y":-21.5},{"s":39,"x":16,"y":-23},{"s":39,"x":17,"y":-29},{"s":39,"x":18,"y":-31},{"s":39,"x":19,"y":-38},{"s":39,"x":20,"y":-41},{"s":39,"x":21,"y":-49},{"s":39,"x":22,"y":-54},{"s":39,"x":23,"y":-64},{"s":39,"x":24,"y":-71},{"s":39,"x":25,"y":-84},{"s":39,"x":26,"y":-96},{"s":39,"x":27,"y":-108},
{"s":40,"x":1,"y":5},{"s":40,"x":2,"y":6.5},{"s":40,"x":3,"y":6},{"s":40,"x":4,"y":7},{"s":40,"x":5,"y":5},{"s":40,"x":6,"y":4},{"s":40,"x":7,"y":4.5},{"s":40,"x":8,"y":3},{"s":40,"x":9,"y":2},{"s":40,"x":10,"y":1},{"s":40,"x":11,"y":1.5},{"s":40,"x":12,"y":0},{"s":40,"x":13,"y":-1},{"s":40,"x":14,"y":-2.5},{"s":40,"x":15,"y":-3},{"s":40,"x":16,"y":-6.5},{"s":40,"x":17,"y":-6.5},{"s":40,"x":18,"y":-10},{"s":40,"x":19,"y":-10.5},{"s":40,"x":20,"y":-14},{"s":40,"x":21,"y":-15},{"s":40,"x":22,"y":-19},{"s":40,"x":23,"y":-20},{"s":40,"x":24,"y":-25},{"s":40,"x":25,"y":-26.5},{"s":40,"x":26,"y":-32},{"s":40,"x":27,"y":-34},{"s":40,"x":28,"y":-41},{"s":40,"x":29,"y":-44},{"s":40,"x":30,"y":-52},{"s":40,"x":31,"y":-57},{"s":40,"x":32,"y":-67},{"s":40,"x":33,"y":-75},{"s":40,"x":34,"y":-89},{"s":40,"x":35,"y":-104},
{"s":41,"x":1,"y":5},{"s":41,"x":2,"y":4},{"s":41,"x":3,"y":3},{"s":41,"x":4,"y":1.5},{"s":41,"x":5,"y":0},{"s":41,"x":6,"y":-1},{"s":41,"x":7,"y":-3},{"s":41,"x":8,"y":-3.5},{"s":41,"x":9,"y":-7},{"s":41,"x":10,"y":-7.5},{"s":41,"x":11,"y":-12},{"s":41,"x":12,"y":-12},{"s":41,"x":13,"y":-17},{"s":41,"x":14,"y":-18},{"s":41,"x":15,"y":-23.5},{"s":41,"x":16,"y":-25},{"s":41,"x":17,"y":-31.5},{"s":41,"x":18,"y":-34},{"s":41,"x":19,"y":-41.5},{"s":41,"x":20,"y":-45},{"s":41,"x":21,"y":-54.5},{"s":41,"x":22,"y":-59},{"s":41,"x":23,"y":-70.5},{"s":41,"x":24,"y":-77},{"s":41,"x":25,"y":-91},{"s":41,"x":26,"y":-104},
{"s":42,"x":1,"y":5},{"s":42,"x":2,"y":6.5},{"s":42,"x":3,"y":6},{"s":42,"x":4,"y":5},{"s":42,"x":5,"y":4},{"s":42,"x":6,"y":4.5},{"s":42,"x":7,"y":3},{"s":42,"x":8,"y":2},{"s":42,"x":9,"y":1},{"s":42,"x":10,"y":1.5},{"s":42,"x":11,"y":0},{"s":42,"x":12,"y":-1.5},{"s":42,"x":13,"y":-2},{"s":42,"x":14,"y":-4},{"s":42,"x":15,"y":-4},{"s":42,"x":16,"y":-7},{"s":42,"x":17,"y":-7},{"s":42,"x":18,"y":-10.5},{"s":42,"x":19,"y":-10},{"s":42,"x":20,"y":-14},{"s":42,"x":21,"y":-14},{"s":42,"x":22,"y":-18},{"s":42,"x":23,"y":-18.5},{"s":42,"x":24,"y":-23},{"s":42,"x":25,"y":-23.5},{"s":42,"x":26,"y":-28},{"s":42,"x":27,"y":-29},{"s":42,"x":28,"y":-34},{"s":42,"x":29,"y":-35},{"s":42,"x":30,"y":-41},{"s":42,"x":31,"y":-43},{"s":42,"x":32,"y":-50},{"s":42,"x":33,"y":-53},{"s":42,"x":34,"y":-61},{"s":42,"x":35,"y":-67},{"s":42,"x":36,"y":-79},{"s":42,"x":37,"y":-96},{"s":42,"x":38,"y":-108},
{"s":43,"x":1,"y":5},{"s":43,"x":2,"y":4},{"s":43,"x":3,"y":4.5},{"s":43,"x":4,"y":3},{"s":43,"x":5,"y":1},{"s":43,"x":6,"y":0},{"s":43,"x":7,"y":-1.5},{"s":43,"x":8,"y":-2.5},{"s":43,"x":9,"y":-5},{"s":43,"x":10,"y":-5},{"s":43,"x":11,"y":-9},{"s":43,"x":12,"y":-9},{"s":43,"x":13,"y":-13},{"s":43,"x":14,"y":-14},{"s":43,"x":15,"y":-19},{"s":43,"x":16,"y":-19},{"s":43,"x":17,"y":-24.5},{"s":43,"x":18,"y":-26},{"s":43,"x":19,"y":-33},{"s":43,"x":20,"y":-34},{"s":43,"x":21,"y":-42},{"s":43,"x":22,"y":-44},{"s":43,"x":23,"y":-53},{"s":43,"x":24,"y":-57},{"s":43,"x":25,"y":-68},{"s":43,"x":26,"y":-75},{"s":43,"x":27,"y":-90},{"s":43,"x":28,"y":-104},
{"s":44,"x":1,"y":5},{"s":44,"x":2,"y":5},{"s":44,"x":3,"y":6},{"s":44,"x":4,"y":4},{"s":44,"x":5,"y":4.5},{"s":44,"x":6,"y":3},{"s":44,"x":7,"y":2},{"s":44,"x":8,"y":2.5},{"s":44,"x":9,"y":1},{"s":44,"x":10,"y":0},{"s":44,"x":11,"y":-1},{"s":44,"x":12,"y":-0.5},{"s":44,"x":13,"y":-2},{"s":44,"x":14,"y":-4},{"s":44,"x":15,"y":-6},{"s":44,"x":16,"y":-5.5},{"s":44,"x":17,"y":-9},{"s":44,"x":18,"y":-9},{"s":44,"x":19,"y":-13},{"s":44,"x":20,"y":-12.5},{"s":44,"x":21,"y":-17},{"s":44,"x":22,"y":-17},{"s":44,"x":23,"y":-21.5},{"s":44,"x":24,"y":-22},{"s":44,"x":25,"y":-27},{"s":44,"x":26,"y":-28},{"s":44,"x":27,"y":-33},{"s":44,"x":28,"y":-35},{"s":44,"x":29,"y":-41},{"s":44,"x":30,"y":-43},{"s":44,"x":31,"y":-50},{"s":44,"x":32,"y":-54},{"s":44,"x":33,"y":-63},{"s":44,"x":34,"y":-69},{"s":44,"x":35,"y":-79},{"s":44,"x":36,"y":-91},{"s":44,"x":37,"y":-104},
{"s":45,"x":1,"y":5},{"s":45,"x":2,"y":6},{"s":45,"x":3,"y":4},{"s":45,"x":4,"y":2},{"s":45,"x":5,"y":0},{"s":45,"x":6,"y":-2.5},{"s":45,"x":7,"y":-3},{"s":45,"x":8,"y":-7},{"s":45,"x":9,"y":-7.5},{"s":45,"x":10,"y":-12},{"s":45,"x":11,"y":-13},{"s":45,"x":12,"y":-18},{"s":45,"x":13,"y":-19},{"s":45,"x":14,"y":-25},{"s":45,"x":15,"y":-27},{"s":45,"x":16,"y":-33},{"s":45,"x":17,"y":-36},{"s":45,"x":18,"y":-44},{"s":45,"x":19,"y":-48},{"s":45,"x":20,"y":-57},{"s":45,"x":21,"y":-63},{"s":45,"x":22,"y":-74},{"s":45,"x":23,"y":-82},{"s":45,"x":24,"y":-97},{"s":45,"x":25,"y":-109},
{"s":46,"x":1,"y":5},{"s":46,"x":2,"y":6},{"s":46,"x":3,"y":5},{"s":46,"x":4,"y":5.5},{"s":46,"x":5,"y":4},{"s":46,"x":6,"y":3},{"s":46,"x":7,"y":3.5},{"s":46,"x":8,"y":2},{"s":46,"x":9,"y":1},{"s":46,"x":10,"y":0.5},{"s":46,"x":11,"y":-1.5},{"s":46,"x":12,"y":-1},{"s":46,"x":13,"y":-4.5},{"s":46,"x":14,"y":-4},{"s":46,"x":15,"y":-7},{"s":46,"x":16,"y":-7},{"s":46,"x":17,"y":-10.5},{"s":46,"x":18,"y":-10},{"s":46,"x":19,"y":-14},{"s":46,"x":20,"y":-14.5},{"s":46,"x":21,"y":-19},{"s":46,"x":22,"y":-20},{"s":46,"x":23,"y":-25},{"s":46,"x":24,"y":-27},{"s":46,"x":25,"y":-33},{"s":46,"x":26,"y":-35},{"s":46,"x":27,"y":-42},{"s":46,"x":28,"y":-46},{"s":46,"x":29,"y":-55},{"s":46,"x":30,"y":-61},{"s":46,"x":31,"y":-72},{"s":46,"x":32,"y":-81},{"s":46,"x":33,"y":-96},{"s":46,"x":34,"y":-110},
{"s":47,"x":1,"y":5},{"s":47,"x":2,"y":3},{"s":47,"x":3,"y":4},{"s":47,"x":4,"y":2.5},{"s":47,"x":5,"y":2},{"s":47,"x":6,"y":0.5},{"s":47,"x":7,"y":1},{"s":47,"x":8,"y":-1},{"s":47,"x":9,"y":-2},{"s":47,"x":10,"y":-3},{"s":47,"x":11,"y":-3.5},{"s":47,"x":12,"y":-6.5},{"s":47,"x":13,"y":-6},{"s":47,"x":14,"y":-10},{"s":47,"x":15,"y":-9.5},{"s":47,"x":16,"y":-13},{"s":47,"x":17,"y":-13},{"s":47,"x":18,"y":-18},{"s":47,"x":19,"y":-19},{"s":47,"x":20,"y":-24},{"s":47,"x":21,"y":-25},{"s":47,"x":22,"y":-31},{"s":47,"x":23,"y":-33},{"s":47,"x":24,"y":-40},{"s":47,"x":25,"y":-43},{"s":47,"x":26,"y":-51},{"s":47,"x":27,"y":-56},{"s":47,"x":28,"y":-66},{"s":47,"x":29,"y":-74},{"s":47,"x":30,"y":-88},{"s":47,"x":31,"y":-103},
{"s":48,"x":1,"y":5},{"s":48,"x":2,"y":7},{"s":48,"x":3,"y":7.5},{"s":48,"x":4,"y":8},{"s":48,"x":5,"y":7},{"s":48,"x":6,"y":7.5},{"s":48,"x":7,"y":6},{"s":48,"x":8,"y":5},{"s":48,"x":9,"y":4},{"s":48,"x":10,"y":4.5},{"s":48,"x":11,"y":3},{"s":48,"x":12,"y":2},{"s":48,"x":13,"y":1},{"s":48,"x":14,"y":0},{"s":48,"x":15,"y":-2.5},{"s":48,"x":16,"y":-2},{"s":48,"x":17,"y":-5},{"s":48,"x":18,"y":-5},{"s":48,"x":19,"y":-9},{"s":48,"x":20,"y":-9},{"s":48,"x":21,"y":-13},{"s":48,"x":22,"y":-13.5},{"s":48,"x":23,"y":-18},{"s":48,"x":24,"y":-19},{"s":48,"x":25,"y":-24},{"s":48,"x":26,"y":-26},{"s":48,"x":27,"y":-32},{"s":48,"x":28,"y":-34},{"s":48,"x":29,"y":-41},{"s":48,"x":30,"y":-45},{"s":48,"x":31,"y":-54},{"s":48,"x":32,"y":-60},{"s":48,"x":33,"y":-71},{"s":48,"x":34,"y":-80},{"s":48,"x":35,"y":-97},{"s":48,"x":36,"y":-110},
{"s":49,"x":1,"y":5},{"s":49,"x":2,"y":3},{"s":49,"x":3,"y":2},{"s":49,"x":4,"y":0},{"s":49,"x":5,"y":-2.5},{"s":49,"x":6,"y":-4},{"s":49,"x":7,"y":-5},{"s":49,"x":8,"y":-9},{"s":49,"x":9,"y":-9},{"s":49,"x":10,"y":-14},{"s":49,"x":11,"y":-14},{"s":49,"x":12,"y":-19},{"s":49,"x":13,"y":-20},{"s":49,"x":14,"y":-26},{"s":49,"x":15,"y":-28},{"s":49,"x":16,"y":-35},{"s":49,"x":17,"y":-37},{"s":49,"x":18,"y":-46},{"s":49,"x":19,"y":-49},{"s":49,"x":20,"y":-59},{"s":49,"x":21,"y":-64},{"s":49,"x":22,"y":-76},{"s":49,"x":23,"y":-84},{"s":49,"x":24,"y":-98},{"s":49,"x":25,"y":-110}
    ]
  },
  "data": {"name": "sim"},
  "resolve": {"axis": {"x": "independent", "y": "independent"}},
  "layer": [
    {
      "mark": {"type": "line", "strokeWidth": 1, "clip": true, "interpolate": "linear"},
      "encoding": {
        "x": {"field": "x", "type": "quantitative", "scale": {"domain": [1, 50], "nice": false, "zero": false},
              "axis": {"orient": "bottom", "values": [5,10,15,20,25,30,35,40,45,50], "title": null, "grid": false, "tickSize": -5, "labelPadding": 9, "zindex": 1}},
        "y": {"field": "y", "type": "quantitative", "scale": {"domain": [-100, 35], "nice": false, "zero": false},
              "axis": {"orient": "left", "values": [-100,-80,-60,-40,-20,0,20], "title": null, "grid": true, "gridColor": "black", "gridDash": [6,4], "gridWidth": 1.4, "gridOpacity": 1, "tickSize": -5, "labelPadding": 9, "zindex": 1}},
        "color": {"field": "s", "type": "ordinal", "legend": null,
                  "scale": {"range": ["#0000ff", "#008000", "#ff0000", "#00bfbf", "#bf00bf", "#bfbf00", "#404040"]}}
      }
    },
    {
      "mark": {"type": "point", "opacity": 0, "clip": true},
      "encoding": {
        "x": {"field": "x", "type": "quantitative", "axis": {"orient": "top", "values": [5,10,15,20,25,30,35,40,45,50], "title": null, "labels": false, "grid": false, "tickSize": -5, "zindex": 1}},
        "y": {"field": "y", "type": "quantitative", "axis": {"orient": "right", "values": [-100,-80,-60,-40,-20,0,20], "title": null, "labels": false, "grid": false, "tickSize": -5, "zindex": 1}}
      }
    }
  ]
}
